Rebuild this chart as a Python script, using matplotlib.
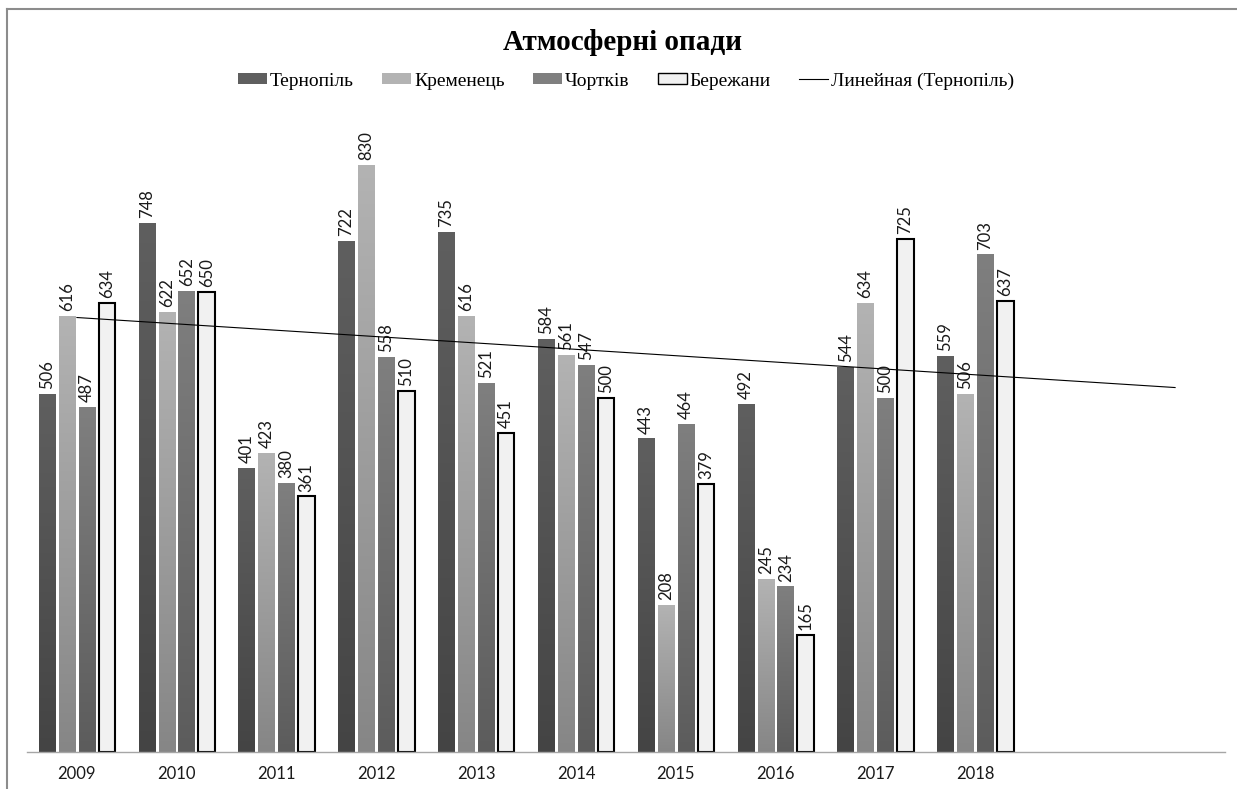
import numpy as np
import matplotlib.pyplot as plt
from matplotlib.colors import LinearSegmentedColormap
from matplotlib.patches import Patch
from matplotlib.lines import Line2D

# precipitation, mm per year
years = ['2009', '2010', '2011', '2012', '2013', '2014', '2015', '2016', '2017', '2018']
ternopil = [506, 748, 401, 722, 735, 584, 443, 492, 544, 559]
kremenets = [616, 622, 423, 830, 616, 561, 208, 245, 634, 506]
chortkiv = [487, 652, 380, 558, 521, 547, 464, 234, 500, 703]
berezhany = [634, 650, 361, 510, 451, 500, 379, 165, 725, 637]

series = [
    ('Тернопіль', ternopil, ('#444444', '#5f5f5f'), None),
    ('Кременець', kremenets, ('#868686', '#b3b3b3'), None),
    ('Чортків', chortkiv, ('#5c5c5c', '#7f7f7f'), None),
    ('Бережани', berezhany, ('#f1f1f1', '#f1f1f1'), 'black'),
]

label_font = 'Lato'
serif = 'Liberation Serif'

fig = plt.figure(figsize=(12.37, 7.89), dpi=100)
ax = fig.add_axes([27 / 1237, 37 / 789, 1198 / 1237, 637 / 789])

x = np.arange(len(years))
width = 0.165
offsets = [-0.3, -0.1, 0.1, 0.3]
grad = np.linspace(0, 1, 256).reshape(-1, 1)

for (name, vals, (c_bot, c_top), edge), off in zip(series, offsets):
    cmap = LinearSegmentedColormap.from_list(name, [c_bot, c_top])
    bars = ax.bar(x + off, vals, width, color=c_top,
                  edgecolor=edge if edge else 'none',
                  linewidth=1.5 if edge else 0, zorder=2)
    for b, v in zip(bars, vals):
        if edge is None:
            img = ax.imshow(grad, extent=[b.get_x(), b.get_x() + b.get_width(), 0, v],
                            origin='lower', aspect='auto', cmap=cmap, zorder=2.5)
            img.set_clip_path(b)
        ax.annotate(str(v), (b.get_x() + b.get_width() / 2, v), xytext=(0, 3.5),
                    textcoords='offset points', rotation=90, ha='center', va='bottom',
                    fontsize=12, family=label_font, color='#1a1a1a', zorder=4)

# linear trend for Тернопіль, extended two periods forward
k, c = np.polyfit(x, ternopil, 1)
xt = np.array([0, len(years) + 1])
ax.plot(xt, k * xt + c, color='black', linewidth=0.8, zorder=5)

ax.set_xlim(-0.5, 11.5)
ax.set_ylim(0, 900)
ax.set_xticks(x)
ax.set_xticklabels(years, family=label_font, fontsize=12, color='#1a1a1a')
ax.tick_params(axis='x', length=0, pad=10)
ax.set_yticks([])
for s in ['left', 'right', 'top']:
    ax.spines[s].set_visible(False)
ax.spines['bottom'].set_color('#a6a6a6')
ax.spines['bottom'].set_linewidth(1.0)

fig.text(0.503, 1 - 42 / 789, 'Атмосферні опади', ha='center', va='center',
         family=serif, fontsize=21, fontweight='bold')

handles = [Patch(facecolor=cols[1], edgecolor=edge if edge else 'none',
                 linewidth=1 if edge else 0) for _, _, cols, edge in series]
handles.append(Line2D([0], [0], color='black', linewidth=0.8))
labels = [s[0] for s in series] + ['Линейная (Тернопіль)']
fig.legend(handles, labels, loc='center', bbox_to_anchor=(0.506, 1 - 81 / 789),
           ncol=5, frameon=False, prop={'family': serif, 'size': 14},
           handlelength=1.5, handleheight=0.5, handletextpad=0.15, columnspacing=1.45)

# chart border
fig.add_artist(Line2D([7 / 1237, 1], [1 - 8.5 / 789] * 2, color='#8c8c8c', linewidth=1.5))
fig.add_artist(Line2D([7.5 / 1237] * 2, [0, 1 - 8.5 / 789], color='#8c8c8c', linewidth=1.5))

fig.savefig('out.png', dpi=100, facecolor='white')
